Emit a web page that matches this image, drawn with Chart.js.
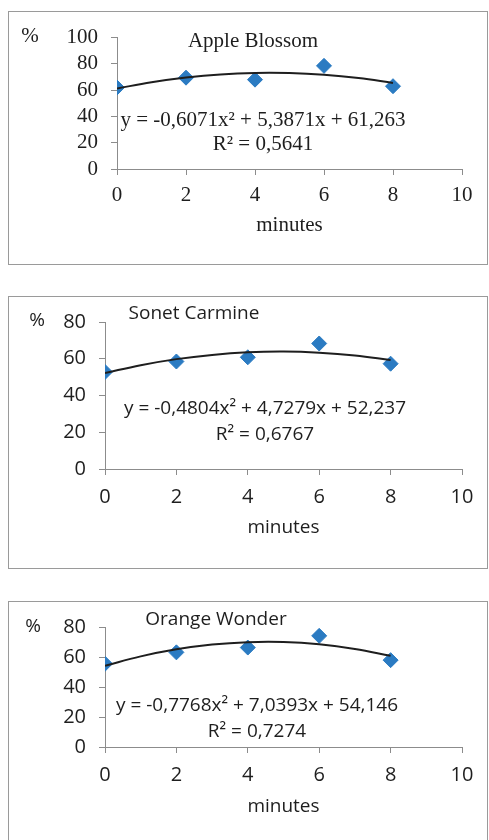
<!DOCTYPE html>
<html>
<head>
<meta charset="utf-8">
<script src="https://cdn.jsdelivr.net/npm/chart.js@4"></script>
<style>
  html, body { margin: 0; padding: 0; background: #fff; overflow: hidden; }
  body { width: 489px; height: 840px; position: relative; }
  .panel { position: absolute; box-sizing: border-box; border: 1px solid #9a9a9a; background: #fff; }
  .panel canvas { display: block; }
</style>
</head>
<body>
<div class="panel" id="p1"><canvas id="c1"></canvas></div>
<div class="panel" id="p2"><canvas id="c2"></canvas></div>
<div class="panel" id="p3"><canvas id="c3"></canvas></div>
<script>
// Measured points (minutes -> %)
const minutes = [0, 2, 4, 6, 8];
const appleBlossom = [62, 69.5, 68, 78.5, 63];
const sonetCarmine = [52.8, 58.5, 60.8, 68.3, 57.3];
const orangeWonder = [55.5, 63.1, 66.3, 74.1, 57.9];

// Polynomial trendlines
const trendMinutes = [0, 1, 2, 3, 4, 5, 6, 7, 8];
const appleTrend = [61.3, 66.0, 69.6, 72.0, 73.1, 73.0, 71.7, 69.2, 65.5];
const sonetTrend = [52.2, 56.5, 59.8, 62.1, 63.5, 63.9, 63.3, 61.8, 59.3];
const orangeTrend = [54.1, 60.4, 65.1, 68.3, 69.9, 70.0, 68.5, 65.4, 60.8];

// Chart labels
const names = ['Apple Blossom', 'Sonet Carmine', 'Orange Wonder'];
const equations = [
  'y = -0,6071x² + 5,3871x + 61,263',
  'y = -0,4804x² + 4,7279x + 52,237',
  'y = -0,7768x² + 7,0393x + 54,146'
];
const rSquared = ['R² = 0,5641', 'R² = 0,6767', 'R² = 0,7274'];
const yMax = [100, 80, 80];
const xMax = 10;
const yLabel = '%';
const xLabel = 'minutes';

const SERIF = '"Liberation Serif", "Times New Roman", serif';
const SANS = '"Open Sans", "Noto Sans", sans-serif';
const AXIS = '#8c8c8c';
const INK = '#1e1e1e';
const BLUE = '#2b7bc2';

// panel geometry (page px): box, plot area, text anchors
const panels = [
  { id: 1, box: [8, 11, 480, 254], plot: [117, 462, 35, 169], font: SERIF, tick: 21, text: 21,
    tickPadX: 8, tickPadY: 13, titlePad: 26,
    pct: [30, 36], title: [253, 41], eq: [263, 120], r2: [263, 144] },
  { id: 2, box: [8, 296, 480, 273], plot: [105, 462, 320, 469], font: SANS, tick: 20, text: 19,
    tickPadX: 10, tickPadY: 13, titlePad: 29,
    pct: [37, 321], title: [194, 314], eq: [265, 409], r2: [265, 435] },
  { id: 3, box: [8, 601, 480, 260], plot: [105, 462, 625, 747], font: SANS, tick: 20, text: 19,
    tickPadX: 10, tickPadY: 13, titlePad: 42,
    pct: [33, 627], title: [216, 620], eq: [257, 706], r2: [257, 732] }
];

const points = [appleBlossom, sonetCarmine, orangeWonder];
const trends = [appleTrend, sonetTrend, orangeTrend];

// draws the chart title, % label and trendline equation
const notesPlugin = {
  id: 'notes',
  afterDraw(chart, args, opts) {
    const ctx = chart.ctx;
    ctx.save();
    ctx.fillStyle = INK;
    ctx.textAlign = 'center';
    ctx.textBaseline = 'middle';
    opts.items.forEach(it => {
      ctx.font = it.size + 'px ' + opts.family;
      ctx.fillText(it.text, it.x, it.y);
    });
    ctx.restore();
  }
};

panels.forEach((p, i) => {
  const [bx, by, bw, bh] = p.box;
  const div = document.getElementById('p' + p.id);
  div.style.left = bx + 'px';
  div.style.top = by + 'px';
  div.style.width = bw + 'px';
  div.style.height = bh + 'px';

  const ox = bx + 1, oy = by + 1;          // canvas origin on page
  const cw = bw - 2, ch = bh - 2;
  const canvas = document.getElementById('c' + p.id);
  canvas.width = cw;
  canvas.height = ch;

  const [pl, pr, pt, pb] = p.plot;
  const tickFont = { family: p.font, size: p.tick };

  new Chart(canvas.getContext('2d'), {
    type: 'scatter',
    data: {
      datasets: [
        {
          type: 'line',
          data: trendMinutes.map((m, k) => ({ x: m, y: trends[i][k] })),
          borderColor: INK,
          borderWidth: 2,
          pointRadius: 0,
          tension: 0.4,
          fill: false
        },
        {
          data: minutes.map((m, k) => ({ x: m, y: points[i][k] })),
          pointStyle: 'rectRot',
          pointRadius: 7.5,
          backgroundColor: BLUE,
          borderColor: BLUE,
          borderWidth: 1
        }
      ]
    },
    options: {
      responsive: false,
      animation: false,
      layout: { padding: { top: pt - oy, right: ox + cw - pr, left: 0, bottom: 0 } },
      plugins: {
        legend: { display: false },
        tooltip: { enabled: false },
        notes: {
          family: p.font,
          items: [
            { text: yLabel, x: p.pct[0] - ox, y: p.pct[1] - oy, size: p.text },
            { text: names[i], x: p.title[0] - ox, y: p.title[1] - oy, size: p.text },
            { text: equations[i], x: p.eq[0] - ox, y: p.eq[1] - oy, size: p.text },
            { text: rSquared[i], x: p.r2[0] - ox, y: p.r2[1] - oy, size: p.text }
          ]
        }
      },
      scales: {
        x: {
          type: 'linear',
          min: 0,
          max: xMax,
          afterFit: s => { s.height = oy + ch - pb; },
          ticks: { stepSize: 2, autoSkip: false, color: INK, font: tickFont, padding: p.tickPadX, maxRotation: 0 },
          grid: { drawOnChartArea: false, tickLength: 6, color: AXIS },
          border: { color: AXIS, width: 1 },
          title: { display: true, text: xLabel, color: INK, font: { family: p.font, size: p.text },
                   padding: { top: 0, bottom: p.titlePad } }
        },
        y: {
          min: 0,
          max: yMax[i],
          afterFit: s => { s.width = pl - ox; },
          ticks: { stepSize: 20, autoSkip: false, color: INK, font: tickFont, padding: p.tickPadY },
          grid: { drawOnChartArea: false, tickLength: 6, color: AXIS },
          border: { color: AXIS, width: 1 }
        }
      }
    },
    plugins: [notesPlugin]
  });
});
</script>
</body>
</html>
